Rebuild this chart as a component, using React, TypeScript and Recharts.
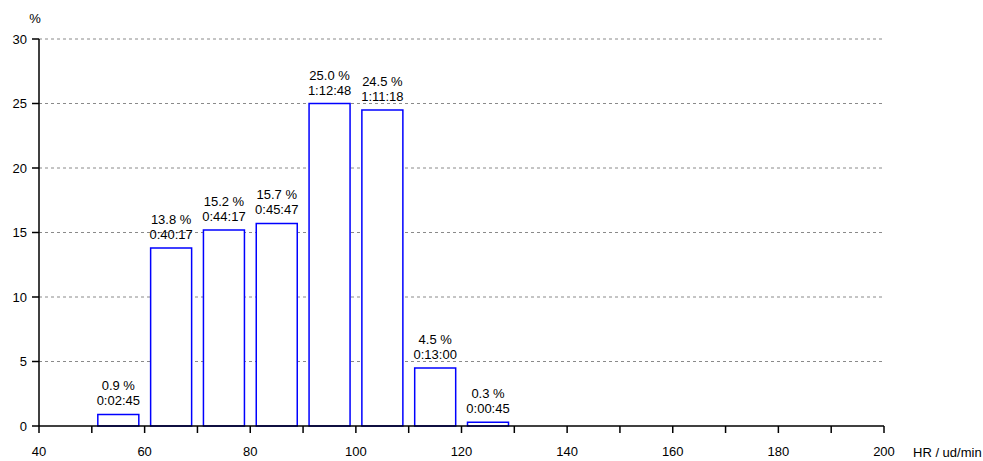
import React from 'react';
import { BarChart, Bar, XAxis, YAxis, CartesianGrid, LabelList } from 'recharts';

// heart rate zones (bin centres, 10 bpm wide)
const hrBins = [55, 65, 75, 85, 95, 105, 115, 125];
const percentages = [0.9, 13.8, 15.2, 15.7, 25.0, 24.5, 4.5, 0.3];
const durations = ['0:02:45', '0:40:17', '0:44:17', '0:45:47', '1:12:48', '1:11:18', '0:13:00', '0:00:45'];

const xTicks = [40, 50, 60, 70, 80, 90, 100, 110, 120, 130, 140, 150, 160, 170, 180, 190, 200];
const yTicks = [0, 5, 10, 15, 20, 25, 30];

const data = hrBins.map((hr, i) => ({ hr, pct: percentages[i], time: durations[i] }));

const FONT = '"Liberation Sans", Arial, sans-serif';

const BarLabel = (props: any) => {
  const { x, y, width, index } = props;
  const d = data[index];
  const cx = x + width / 2;
  return (
    <g>
      <text x={cx} y={y - 24} textAnchor="middle" fontSize={13} fontFamily={FONT} fill="#000">
        {`${d.pct.toFixed(1)} %`}
      </text>
      <text x={cx} y={y - 9} textAnchor="middle" fontSize={13} fontFamily={FONT} fill="#000">
        {d.time}
      </text>
    </g>
  );
};

export default function App() {
  return (
    <div style={{ position: 'absolute', left: 0, top: 0, width: 983, height: 461, background: '#fff' }}>
      <BarChart
        width={983}
        height={461}
        data={data}
        margin={{ top: 39, right: 99, left: 0, bottom: 0 }}
        style={{ fontFamily: FONT }}
      >
        <CartesianGrid vertical={false} stroke="#8a8a8a" strokeDasharray="3 3" horizontalValues={[5, 10, 15, 20, 25, 30]} />
        <XAxis
          dataKey="hr"
          type="number"
          domain={[40, 200]}
          ticks={xTicks}
          interval={0}
          height={35}
          stroke="#000"
          strokeWidth={1.5}
          tickSize={7}
          tickMargin={14}
          tick={{ fill: '#000', fontSize: 13, fontFamily: FONT }}
          tickFormatter={(v: number) => (v % 20 === 0 ? String(v) : '')}
          allowDataOverflow
        />
        <YAxis
          type="number"
          domain={[0, 30]}
          ticks={yTicks}
          interval={0}
          width={39}
          stroke="#000"
          strokeWidth={1.5}
          tickSize={7}
          tickMargin={5}
          tick={{ fill: '#000', fontSize: 13, fontFamily: FONT }}
        />
        <Bar dataKey="pct" barSize={41} fill="#fff" stroke="#0000ff" strokeWidth={1.5} isAnimationActive={false}>
          <LabelList dataKey="pct" content={BarLabel} />
        </Bar>
        <text x={35} y={23} textAnchor="middle" fontSize={13} fontFamily={FONT} fill="#000">%</text>
        <text x={913} y={457} fontSize={13} fontFamily={FONT} fill="#000">HR / ud/min</text>
      </BarChart>
    </div>
  );
}
